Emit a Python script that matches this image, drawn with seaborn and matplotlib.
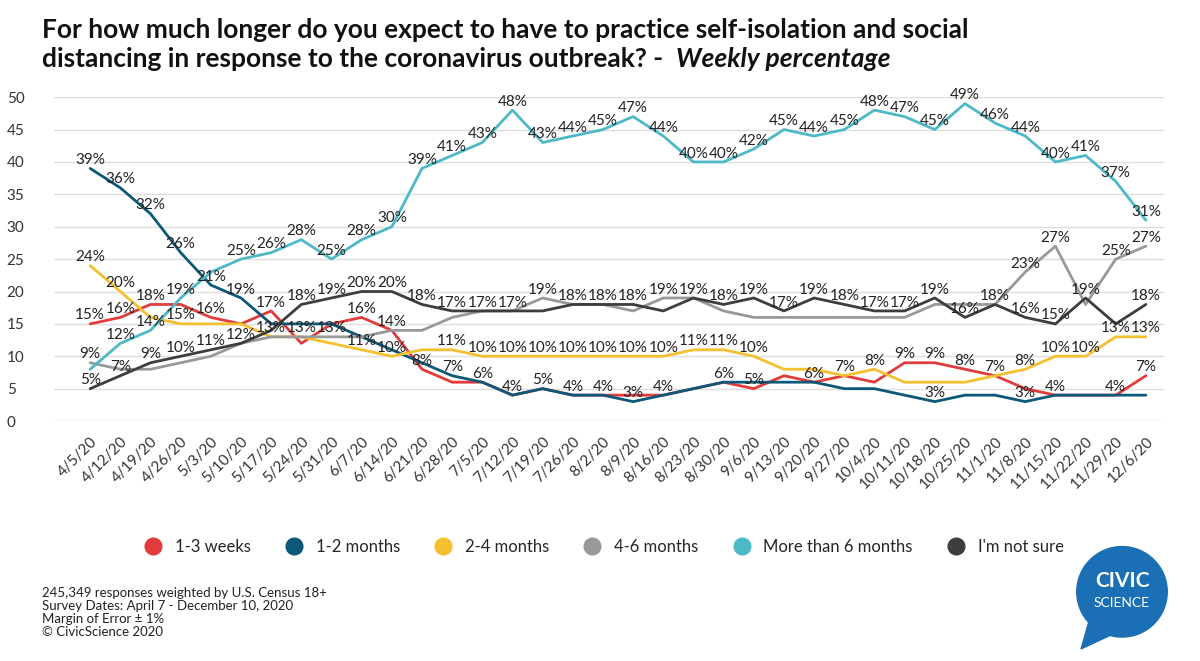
import matplotlib
matplotlib.use("Agg")
import matplotlib.pyplot as plt
import seaborn as sns
import pandas as pd
from matplotlib.patches import Circle, Polygon
from matplotlib.lines import Line2D

sns.set_theme(style="white")
plt.rcParams['font.family'] = ['Lato', 'DejaVu Sans']

dates = ["4/5/20","4/12/20","4/19/20","4/26/20","5/3/20","5/10/20","5/17/20","5/24/20","5/31/20",
         "6/7/20","6/14/20","6/21/20","6/28/20","7/5/20","7/12/20","7/19/20","7/26/20","8/2/20",
         "8/9/20","8/16/20","8/23/20","8/30/20","9/6/20","9/13/20","9/20/20","9/27/20","10/4/20",
         "10/11/20","10/18/20","10/25/20","11/1/20","11/8/20","11/15/20","11/22/20","11/29/20","12/6/20"]

weeks_1_3 = [15,16,18,18,16,15,17,12,15,16,14,8,6,6,4,5,4,4,4,4,5,6,5,7,6,7,6,9,9,8,7,5,4,4,4,7]
months_1_2 = [39,36,32,26,21,19,15,15,15,13,11,9,7,6,4,5,4,4,3,4,5,6,6,6,6,5,5,4,3,4,4,3,4,4,4,4]
months_2_4 = [24,20,16,15,15,15,13,13,12,11,10,11,11,10,10,10,10,10,10,10,11,11,10,8,8,7,8,6,6,6,7,8,10,10,13,13]
months_4_6 = [9,8,8,9,10,12,13,13,13,13,14,14,16,17,17,19,18,18,17,19,19,17,16,16,16,16,16,16,18,18,18,23,27,18,25,27]
more_6 = [8,12,14,19,23,25,26,28,25,28,30,39,41,43,48,43,44,45,47,44,40,40,42,45,44,45,48,47,45,49,46,44,40,41,37,31]
not_sure = [5,7,9,10,11,12,14,18,19,20,20,18,17,17,17,17,18,18,18,17,19,18,19,17,19,18,17,17,19,16,18,16,15,19,15,18]

series_names = ["1-3 weeks","1-2 months","2-4 months","4-6 months","More than 6 months","I'm not sure"]
series_vals = [weeks_1_3, months_1_2, months_2_4, months_4_6, more_6, not_sure]
colors = ["#e23b3b","#0b5878","#f4c02f","#999999","#4db9c7","#3d3d3d"]

labels_idx = {
    "1-3 weeks": [0,1,2,4,6,9,10,11,13,14,15,16,17,19,21,22,24,25,27,28,29,30,32,34,35],
    "1-2 months": [0,1,2,3,4,5,12,18,28,31],
    "2-4 months": [0,1,3,9,10,12,13,14,15,16,17,18,19,20,21,22,26,31,32,33,34,35],
    "4-6 months": [0,5,6,7,8,15,19,31,32,34,35],
    "More than 6 months": [1,2,3] + list(range(5, 36)),
    "I'm not sure": [0,1,2,3,4,7,8,9,10,11,12,13,14,16,17,18,20,21,22,23,24,25,26,27,28,29,30,31,32,33,35],
}

rows = []
for name, vals in zip(series_names, series_vals):
    for i, v in enumerate(vals):
        rows.append({"x": i, "date": dates[i], "value": v, "series": name})
df = pd.DataFrame(rows)

fig = plt.figure(figsize=(12, 6.61), dpi=100)
ax = fig.add_axes([0.045, 0.363, 0.925, 0.49])
sns.lineplot(data=df, x="x", y="value", hue="series", hue_order=series_names,
             palette=colors, linewidth=2, ax=ax, legend=False)

for name, vals in zip(series_names, series_vals):
    for i in labels_idx[name]:
        ax.text(i, vals[i] + 1.3, f"{vals[i]}%", ha="center", va="center",
                fontsize=11, color="#222222")

ax.set_ylim(0, 50)
ax.set_xlim(-1.2, 35.6)
ax.set_yticks(range(0, 51, 5))
ax.set_xticks(range(len(dates)))
ax.set_xticklabels(dates, rotation=45, ha="right", rotation_mode="anchor", fontsize=11, color="#333333")
ax.set_xlabel("")
ax.set_ylabel("")
ax.grid(axis="y", color="#dddddd", linewidth=1)
for s in ax.spines.values():
    s.set_visible(False)
for lab in ax.get_yticklabels():
    lab.set_horizontalalignment("left")
ax.tick_params(axis='y', labelsize=11, colors="#333333", pad=28)

fig.text(0.035, 0.955, "For how much longer do you expect to have to practice self-isolation and social",
         fontsize=19, fontweight="bold", color="#111111", va="center")
t2 = fig.text(0.035, 0.91, "distancing in response to the coronavirus outbreak? -  ",
              fontsize=19, fontweight="bold", color="#111111", va="center")
fig.canvas.draw()
bb = t2.get_window_extent(renderer=fig.canvas.get_renderer())
fig.text(bb.x1 / fig.bbox.width, 0.91, "Weekly percentage", fontsize=19, fontweight="bold",
         style="italic", color="#111111", va="center")

handles = [Line2D([0], [0], marker="o", color="none", markerfacecolor=c, markeredgecolor=c, markersize=12)
           for c in colors]
fig.legend(handles, series_names, loc="center", bbox_to_anchor=(0.5, 0.172), ncol=6, frameon=False,
           fontsize=12, handletextpad=0.3, columnspacing=1.6)

fig.text(0.035, 0.035, "245,349 responses weighted by U.S. Census 18+\nSurvey Dates: April 7 - December 10, 2020\nMargin of Error ± 1%\n© CivicScience 2020",
         fontsize=9.5, color="#222222", va="bottom", linespacing=1.1)

lax = fig.add_axes([0.89, 0.015, 0.09, 0.163])
lax.set_xlim(0, 1); lax.set_ylim(0, 1); lax.set_aspect("equal"); lax.axis("off")
lax.add_patch(Circle((0.5, 0.55), 0.42, color="#1a6fb5"))
lax.add_patch(Polygon([[0.2, 0.3], [0.12, 0.02], [0.42, 0.16]], color="#1a6fb5"))
lax.text(0.5, 0.65, "CIVIC", color="white", ha="center", va="center", fontsize=15, fontweight="bold")
lax.text(0.5, 0.45, "SCIENCE", color="white", ha="center", va="center", fontsize=10)

fig.savefig("out.png", dpi=100, facecolor="white")
